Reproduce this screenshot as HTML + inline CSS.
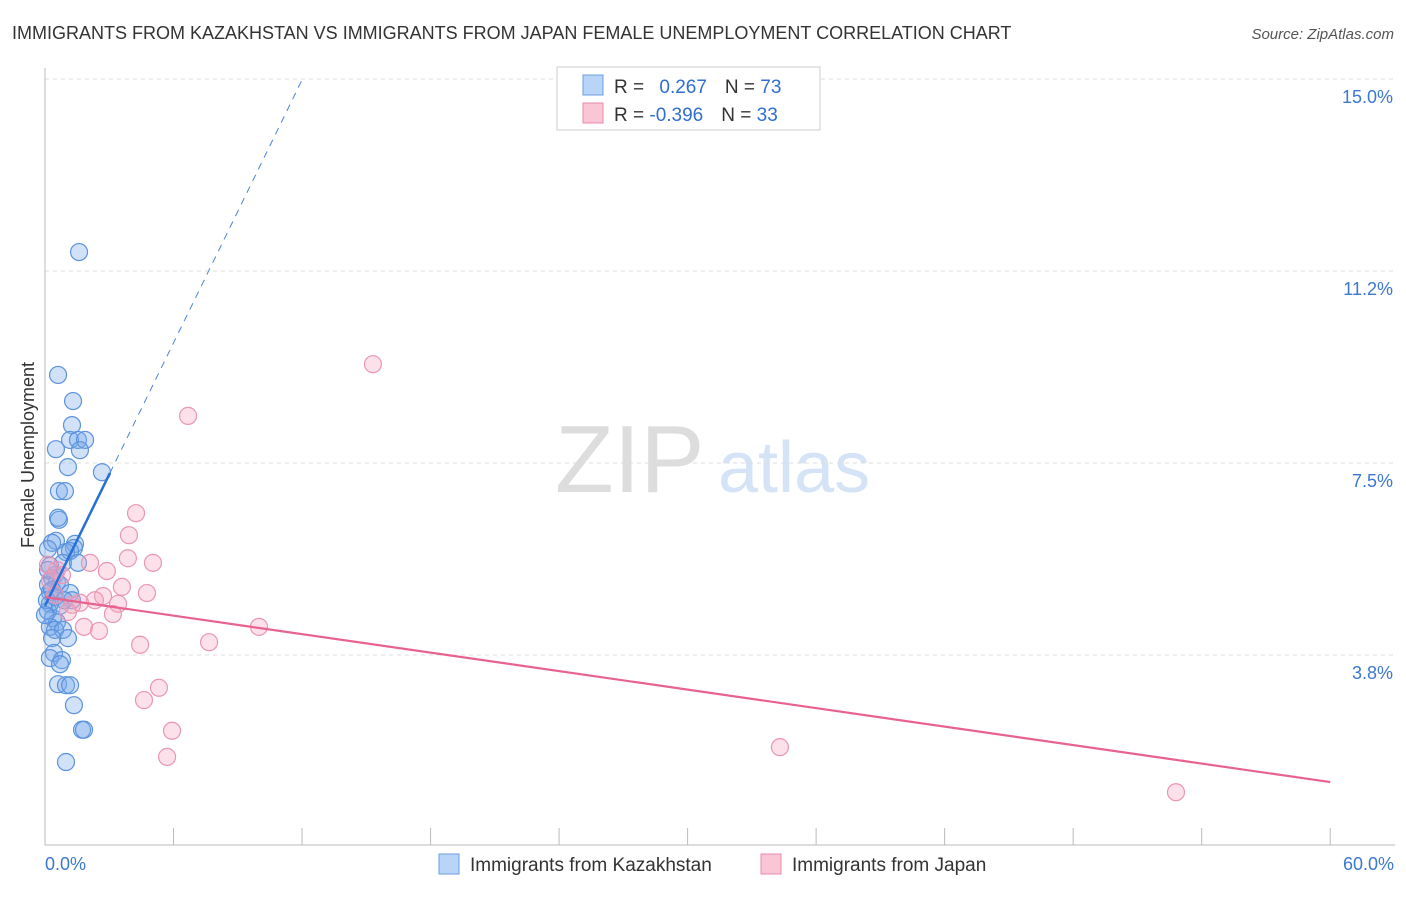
<!DOCTYPE html>
<html><head><meta charset="utf-8"><style>
body{margin:0;background:#fff;font-family:"Liberation Sans",sans-serif}
svg text{font-family:"Liberation Sans",sans-serif}
</style></head><body>
<svg id="c" width="1406" height="892">
<text x="12" y="39" font-size="18" fill="#333">IMMIGRANTS FROM KAZAKHSTAN VS IMMIGRANTS FROM JAPAN FEMALE UNEMPLOYMENT CORRELATION CHART</text>
<text x="1394" y="39" font-size="15" fill="#555" font-style="italic" text-anchor="end">Source: ZipAtlas.com</text>
<text x="34" y="455" font-size="18" fill="#333" transform="rotate(-90 34 455)" text-anchor="middle">Female Unemployment</text>
<text x="555" y="492" font-size="96" fill="#ddd" font-family="Liberation Serif">ZIP</text>
<text x="718" y="492" font-size="72" fill="#d4e3f5">atlas</text>
<g id="grid"></g><g id="axes"></g><g id="pts"></g><g id="lines"></g>
<g>
<rect x="557" y="67" width="263" height="63" fill="#fff" stroke="#ccc"/>
<rect x="583" y="75" width="20" height="20" fill="#b8d4f6" stroke="#6b9ee0"/>
<rect x="583" y="103" width="20" height="20" fill="#f9c6d6" stroke="#e98aa8"/>
<text x="614" y="93" font-size="19" fill="#333">R = <tspan fill="#2e6fd0" dx="10">0.267</tspan><tspan dx="18" fill="#333">N = </tspan><tspan fill="#2e6fd0">73</tspan></text>
<text x="614" y="121" font-size="19" fill="#333">R = <tspan fill="#2e6fd0">-0.396</tspan><tspan dx="18" fill="#333">N = </tspan><tspan fill="#2e6fd0">33</tspan></text>
</g>
<g>
<rect x="439" y="854" width="20" height="20" fill="#b8d4f6" stroke="#6b9ee0"/>
<text x="470" y="871" font-size="19" fill="#333">Immigrants from Kazakhstan</text>
<rect x="761" y="854" width="20" height="20" fill="#f9c6d6" stroke="#e98aa8"/>
<text x="792" y="871" font-size="19" fill="#333">Immigrants from Japan</text>
</g>
</svg>
<script>
const yTicks=[3.8,7.5,11.2,15.0];
const yTickVals=[3.75,7.5,11.25,15];
const xTickLabels=["0.0%","60.0%"];
const kazX=[1.59,0.61,1.31,1.26,1.17,1.54,1.87,1.63,0.51,1.07,2.66,0.65,0.93,0.65,0.61,0.51,0.33,1.40,1.35,0.98,1.17,0.14,0.84,1.54,0.23,0.47,0.33,0.56,0.14,0.70,0.23,0.47,1.17,1.26,0.89,0.23,0.14,0.37,0.56,0.23,0.47,0.84,1.07,0.33,0.42,0.23,0.79,0.70,0.61,0.98,1.17,1.35,1.73,1.82,0.98,0.14,0.33,0.09,0.70,0.00];
const kazY=[11.62,9.22,8.71,8.24,7.95,7.95,7.95,7.75,7.77,7.42,7.32,6.95,6.95,6.39,6.43,5.98,5.94,5.92,5.84,5.76,5.78,5.82,5.55,5.55,5.49,5.31,5.25,5.18,5.12,5.12,4.98,4.88,4.96,4.82,4.82,4.75,4.61,4.47,4.39,4.30,4.24,4.24,4.08,4.08,3.79,3.69,3.65,3.57,3.18,3.16,3.16,2.77,2.29,2.29,1.66,5.41,5.02,4.82,4.71,4.53];
const jpX=[15.31,6.68,4.25,3.92,3.87,5.04,2.10,2.89,3.59,4.76,2.71,0.56,2.33,3.41,1.63,1.26,1.07,3.17,1.82,2.52,4.44,7.66,9.99,5.32,4.62,5.93,5.70,34.31,52.80,0.23,0.47,0.79,0.14];
const jpY=[9.43,8.42,6.52,6.09,5.64,5.55,5.55,5.39,5.08,4.96,4.90,5.41,4.82,4.75,4.77,4.73,4.59,4.55,4.30,4.22,3.95,4.00,4.30,3.11,2.87,2.27,1.76,1.95,1.07,5.21,4.92,5.31,5.51];
const kazTrend=[4.71,0.856];
const jpTrend=[4.88,-0.0602];
const NS="http://www.w3.org/2000/svg";
const X=v=>45+v*21.42, Y=v=>847-v*51.2;
function mk(p,t,a){const e=document.createElementNS(NS,t);for(const k in a)e.setAttribute(k,a[k]);p.appendChild(e);return e;}
const grid=document.getElementById('grid'),axes=document.getElementById('axes'),pts=document.getElementById('pts'),lines=document.getElementById('lines');
yTickVals.forEach((v,i)=>{
 const l=mk(grid,'line',{x1:45,x2:1395,y1:Y(v),y2:Y(v),stroke:'#ddd','stroke-dasharray':'4 4'});
 
 
 const t=mk(grid,'text',{x:1393,y:Y(v)+24,'font-size':18,fill:'#3b78d0','text-anchor':'end'});
 t.textContent=yTicks[i].toFixed(1)+'%';
 
 
});
const ax=mk(axes,'line',{x1:45,x2:45,y1:68,y2:845,stroke:'#bbb'});


const bx=mk(axes,'line',{x1:45,x2:1395,y1:845,y2:845,stroke:'#bbb'});


for(let i=0;i<=10;i++){const t=mk(axes,'line',{x1:X(i*6),x2:X(i*6),y1:828,y2:845,stroke:'#bbb'});
 
 }
[[0,'start',45],[60,'end',1394]].forEach((d,i)=>{const t=mk(axes,'text',{x:d[2],y:870,'font-size':18,fill:'#3b78d0','text-anchor':d[1]});t.textContent=xTickLabels[i];
 
 });
kazX.forEach((x,i)=>{const c=mk(pts,'circle',{cx:X(x),cy:Y(kazY[i]),r:8.5,fill:'rgba(120,170,235,0.35)',stroke:'#5b93dc','stroke-width':1.2});
 
 });
jpX.forEach((x,i)=>{const c=mk(pts,'circle',{cx:X(x),cy:Y(jpY[i]),r:8.5,fill:'rgba(245,170,195,0.35)',stroke:'#ea96b2','stroke-width':1.2});
 
 });
const k0=0,k1=3.03,k2=12.0;
let l=mk(lines,'line',{x1:X(k0),y1:Y(kazTrend[0]+kazTrend[1]*k0),x2:X(k1),y2:Y(kazTrend[0]+kazTrend[1]*k1),stroke:'#2a6fd6','stroke-width':2.5});


l=mk(lines,'line',{x1:X(k1),y1:Y(kazTrend[0]+kazTrend[1]*k1),x2:X(k2),y2:Y(kazTrend[0]+kazTrend[1]*k2),stroke:'#4a85dc','stroke-width':1,'stroke-dasharray':'7 6'});


l=mk(lines,'line',{x1:X(0),y1:Y(jpTrend[0]),x2:X(60),y2:Y(jpTrend[0]+jpTrend[1]*60),stroke:'#e8628e','stroke-width':2.2});


</script>
</body></html>
